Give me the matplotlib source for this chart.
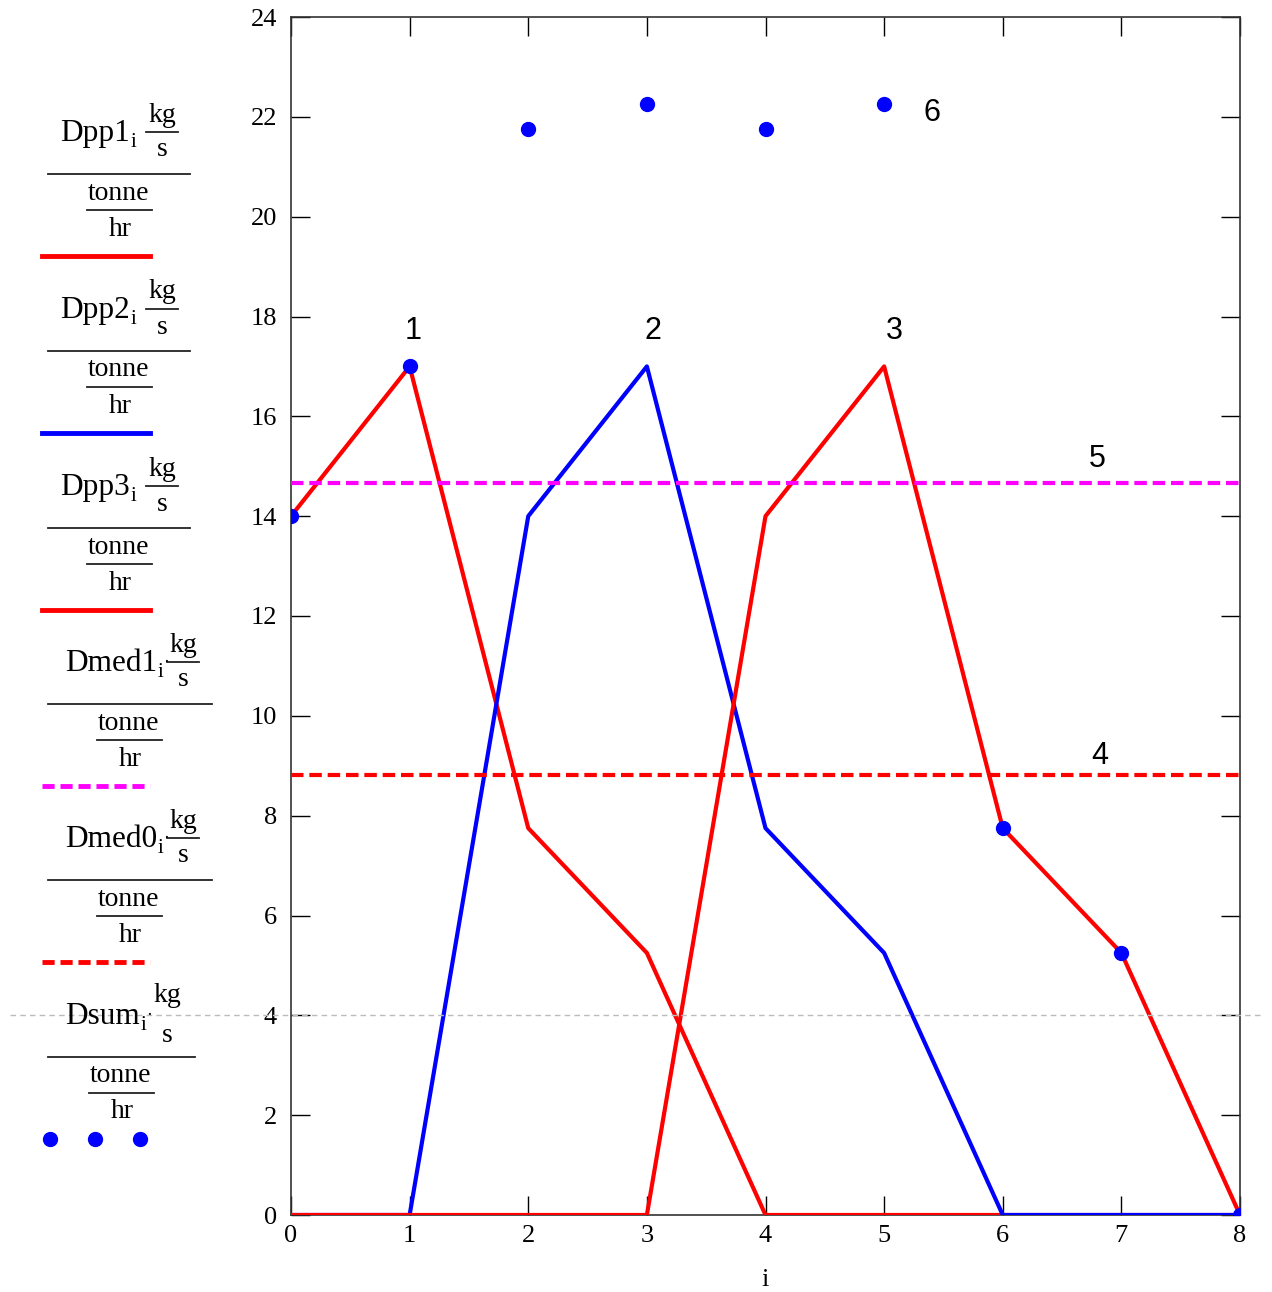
import matplotlib
matplotlib.use("Agg")
import matplotlib.pyplot as plt
from matplotlib.lines import Line2D

# ── Data ─────────────────────────────────────────────────────────────────────
i_vals = [0, 1, 2, 3, 4, 5, 6, 7, 8]
dpp1 = [14, 17, 7.75, 5.25, 0, 0, 0, 0, 0]
dpp2 = [0, 0, 14, 17, 7.75, 5.25, 0, 0, 0]
dpp3 = [0, 0, 0, 0, 14, 17, 7.75, 5.25, 0]
dmed1 = [14.67] * 9
dmed0 = [8.82] * 9
dsum = [14, 17, 21.75, 22.25, 21.75, 22.25, 7.75, 5.25, 0]

y_ticks = list(range(0, 25, 2))
x_ticks = list(range(0, 9))

callouts = ["1", "2", "3", "4", "5", "6"]
callout_xy = [(1.03, 17.71), (3.05, 17.71), (5.09, 17.71), (6.82, 9.19), (6.80, 15.14), (5.40, 22.07)]

legend_names = ["Dpp1", "Dpp2", "Dpp3", "Dmed1", "Dmed0", "Dsum"]

RED, BLUE, MAGENTA = "#ff0000", "#0000ff", "#ff00ff"
SERIF = "Liberation Serif"

W, H = 1272, 1292
fig = plt.figure(figsize=(W / 100, H / 100), dpi=100, facecolor="white")
ax = fig.add_axes([291 / W, 1 - 1215 / H, (1240 - 291) / W, (1215 - 17) / H])

ax.plot(i_vals, dpp1, color=RED, lw=3, zorder=3)
ax.plot(i_vals, dpp2, color=BLUE, lw=3, zorder=3)
ax.plot(i_vals, dpp3, color=RED, lw=3, zorder=3)
ax.plot(i_vals, dmed1, color=MAGENTA, lw=3, dashes=(3, 1.4), zorder=3)
ax.plot(i_vals, dmed0, color=RED, lw=3, dashes=(3, 1.4), zorder=3)
ax.plot(i_vals, dsum, ls="none", marker="o", color=BLUE, ms=10, zorder=4)

for txt, (x, y) in zip(callouts, callout_xy):
    ax.text(x, y, txt, fontsize=22, family="Liberation Sans", ha="center", va="center",
            color="black")

ax.set_xlim(0, 8)
ax.set_ylim(0, 24)
ax.set_xticks(x_ticks)
ax.set_yticks(y_ticks)
ax.tick_params(direction="in", length=14, width=1, top=True, right=True,
               labelsize=19)
ax.tick_params(axis="x", pad=7)
ax.tick_params(axis="y", pad=10)
for lab in ax.get_xticklabels() + ax.get_yticklabels():
    lab.set_family(SERIF)
ax.set_xlabel("i", fontsize=19, family=SERIF, labelpad=16)
for sp in ax.spines.values():
    sp.set_linewidth(1.2)
    sp.set_color("#333333")


# ── Left-hand legend (Mathcad style) ─────────────────────────────────────────
def px(x, y):
    return x / W, 1 - y / H


def hbar(x0, x1, y, lw=1.3):
    fig.add_artist(Line2D([x0 / W, x1 / W], [1 - y / H] * 2, lw=lw, color="#222222"))


def txt(x, y, s, size=20, ha="center", va="center"):
    fig.text(*px(x, y), s, fontsize=size, family=SERIF, ha=ha, va=va)


bar_y = [174, 351, 528, 704, 880, 1057]
# name end x, kg-fraction centre x, big bar right x, tonne centre x
layout = [(130, 162, 190, 119), (130, 162, 190, 119), (130, 162, 190, 119),
          (157, 183, 212, 129), (157, 183, 212, 129), (140, 167, 195, 121)]
styles = [dict(color=RED), dict(color=BLUE), dict(color=RED),
          dict(color=MAGENTA, dashes=(2.5, 1.2)), dict(color=RED, dashes=(2.5, 1.2)), None]

for name, B, (nx, kx, bx, tx), st in zip(legend_names, bar_y, layout, styles):
    txt(nx, B - 33, name, size=22.5, ha="right", va="baseline")
    txt(nx + 1, B - 27, "i", size=15, ha="left", va="baseline")
    if name.startswith("Dmed") or name == "Dsum":
        txt(nx + 9, B - 37, "·", size=13, ha="center", va="baseline")
    if name == "Dsum":
        txt(kx, B - 62, "kg")
        txt(kx, B - 22, "s")
    else:
        txt(kx, B - 59, "kg")
        hbar(kx - 16, kx + 16, B - 42)
        txt(kx, B - 24, "s")
    hbar(48, bx, B)
    txt(tx, B + 19, "tonne")
    hbar(tx - 32, tx + 33, B + 36)
    txt(tx + 1, B + 55, "hr")
    sy = B + 82
    if st is None:
        fig.add_artist(Line2D([50 / W, 95 / W, 140 / W], [1 - sy / H] * 3, ls="none",
                              marker="o", ms=10, color=BLUE))
    else:
        fig.add_artist(Line2D([42 / W, 150 / W], [1 - sy / H] * 2, lw=3.5, **st))

# faint page separator
fig.add_artist(Line2D([10 / W, 1262 / W], [1 - 1015 / H] * 2, lw=1, color="#bbbbbb",
                      dashes=(4, 3)))

fig.savefig("out.png", dpi=100, facecolor="white")
